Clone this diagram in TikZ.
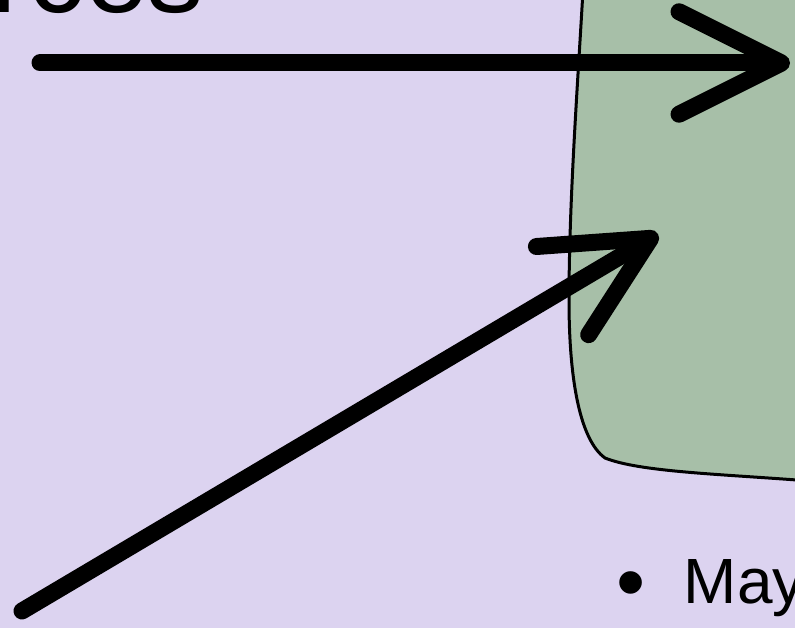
\documentclass[tikz,border=0pt]{standalone}
\usepackage{fontspec}
\setmainfont{Liberation Sans}
\usepackage{tikz}
\usepackage{xcolor}
\usetikzlibrary{arrows.meta, positioning}
\definecolor{slbg}{HTML}{DCD3F0}
\definecolor{slgreen}{HTML}{A7BFA8}

\begin{document}
\begin{tikzpicture}[x=0.02cm, y=-0.02cm,
    bigtext/.style={font=\fontsize{64}{70}\selectfont, inner sep=0pt},
    itemtext/.style={font=\fontsize{36.4}{40}\selectfont, inner sep=0pt},
    flow/.style={line width=0.34cm, line cap=round,
        -{Straight Barb[round, length=2.05cm, width=2.05cm]}}]
\useasboundingbox (0,0) rectangle (795,628);
\clip (0,0) rectangle (795,628);
\fill[slbg] (0,0) rectangle (795,628);
% green box, only its left part is in view
\filldraw[fill=slgreen, draw=black, line width=0.06cm]
    (583,-10) .. controls (578,80) and (569,200) .. (569,300)
    .. controls (569,380) and (580,440) .. (605,458)
    .. controls (640,472) and (720,474) .. (810,481)
    -- (810,-10) -- cycle;
\node[bigtext, anchor=base west] (heading) at (-9,13) {rces};
\node[itemtext, anchor=base west] (item) at (616,603)
    {\raisebox{-0.12em}{\scalebox{1.3}{\textbullet}}\hspace{0.6em}May};
\coordinate (srcA) at (40,63);
\coordinate (dstA) at (790,63);
\coordinate (srcB) at (22,611);
\coordinate (dstB) at (658,234);
\draw[flow] (srcA) -- (dstA);
\draw[flow] (srcB) -- (dstB);
\end{tikzpicture}
\end{document}
